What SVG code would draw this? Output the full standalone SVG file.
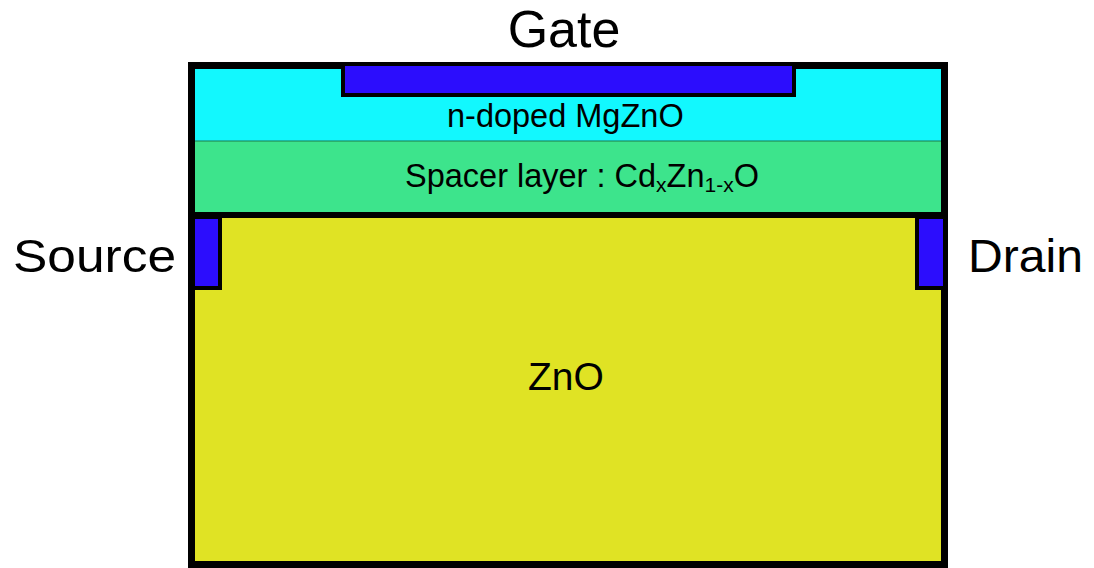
<svg xmlns="http://www.w3.org/2000/svg" width="1094" height="568" viewBox="0 0 1094 568">
  <style>
    .lbl { font-family: "Liberation Sans", Arial, sans-serif; fill: #000; }
    .big { font-size: 47px; }
    .electrode { fill: #2C0DFD; stroke: #000; stroke-width: 4; }
  </style>
  <rect width="1094" height="568" fill="#fff"/>

  <!-- Layer stack -->
  <g id="mgzno-layer">
    <rect x="195" y="69" width="747" height="72" fill="#12F8FE"/>
    <text class="lbl" x="447" y="127" font-size="32.5">n-doped MgZnO</text>
  </g>
  <g id="spacer-layer">
    <rect x="195" y="141" width="747" height="72" fill="#3DE48C"/>
    <line x1="195" y1="141" x2="942" y2="141" stroke="#1f7a4a" stroke-width="1"/>
    <text class="lbl" x="405" y="187" font-size="32.5">Spacer layer : Cd<tspan font-size="21" dy="5">x</tspan><tspan dy="-5">Zn</tspan><tspan font-size="21" dy="5">1-x</tspan><tspan dy="-5">O</tspan></text>
  </g>
  <g id="zno-layer">
    <rect x="195" y="218" width="747" height="344" fill="#E0E324"/>
    <text class="lbl" x="528" y="390" font-size="39">ZnO</text>
  </g>

  <!-- Outer frame and channel boundary -->
  <g id="frame">
    <line x1="191" y1="215" x2="945" y2="215" stroke="#000" stroke-width="6"/>
    <rect x="191.5" y="65.5" width="753" height="499" fill="none" stroke="#000" stroke-width="7"/>
  </g>

  <!-- Contacts -->
  <g id="gate">
    <rect class="electrode" x="343" y="64" width="451" height="31"/>
    <text class="lbl" x="564" y="47" font-size="52" text-anchor="middle">Gate</text>
  </g>
  <g id="source">
    <rect class="electrode" x="193" y="217" width="27" height="71"/>
    <text class="lbl big" x="176" y="272" text-anchor="end" textLength="163" lengthAdjust="spacingAndGlyphs">Source</text>
  </g>
  <g id="drain">
    <rect class="electrode" x="917" y="217" width="28" height="71"/>
    <text class="lbl big" x="968" y="272" textLength="115" lengthAdjust="spacingAndGlyphs">Drain</text>
  </g>

  <g id="connectors"></g>
</svg>
